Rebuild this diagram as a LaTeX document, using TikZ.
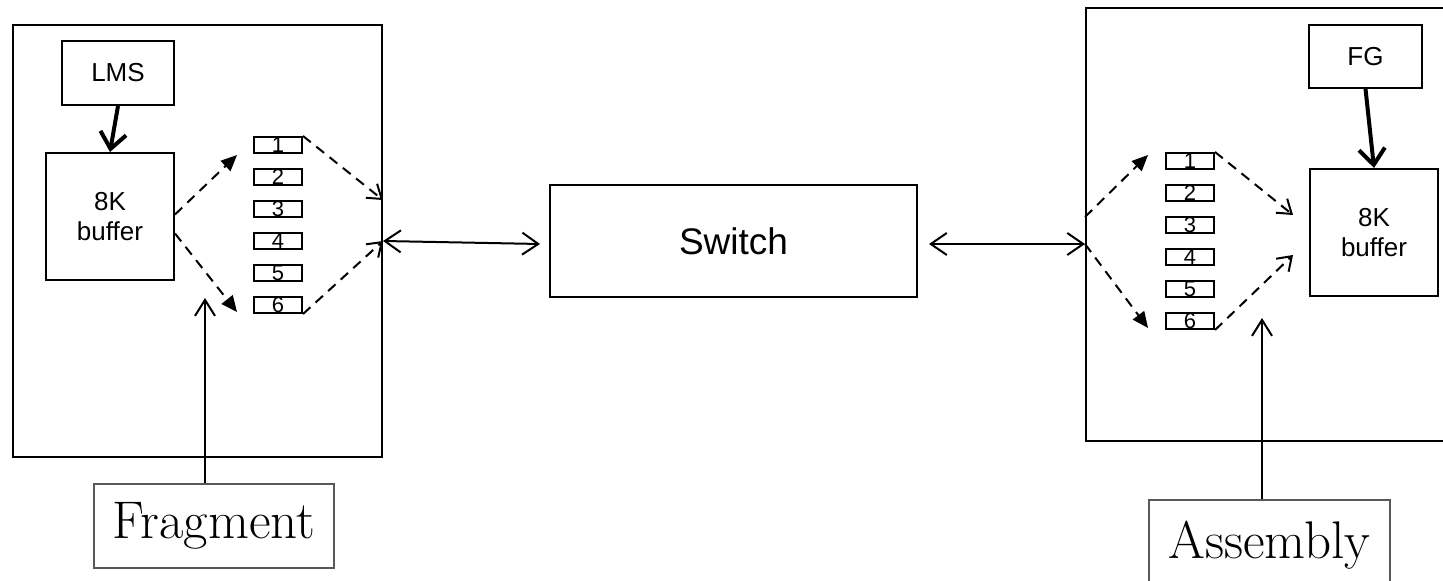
\documentclass[tikz,border=0pt]{standalone}
\usepackage{fontspec}
\newfontfamily\sansf{Liberation Sans}
\usetikzlibrary{arrows.meta,calc}
\begin{document}
\begin{tikzpicture}[x=0.5pt,y=-0.5pt,
  box/.style={draw, line width=1pt, inner sep=0pt, align=center,
    font=\sansf\fontsize{13}{15}\selectfont},
  cell/.style={draw, line width=1pt, minimum width=24pt, minimum height=8pt,
    inner sep=0pt, font=\sansf\fontsize{11}{11}\selectfont},
  labelbox/.style={draw=black!65, line width=0.6pt, inner sep=0pt,
    font=\fontsize{26.5}{28}\selectfont},
  feed/.style={line width=2pt, -{Straight Barb[length=8pt,width=13pt]}},
  dashout/.style={line width=1pt, dash pattern=on 5pt off 3.5pt,
    -{Triangle[length=8pt,width=7pt]}},
  dashin/.style={line width=1pt, dash pattern=on 5pt off 3.5pt,
    -{Straight Barb[length=6.5pt,width=9pt]}},
  link/.style={line width=1pt,
    {Straight Barb[length=8pt,width=11pt]}-{Straight Barb[length=8pt,width=11pt]}},
  rise/.style={line width=1pt, -{Straight Barb[length=8pt,width=10pt]}}
]
\useasboundingbox (0,0) rectangle (1443,581);
\clip (0,0) rectangle (1443,581);

% left container
\node[box, minimum width=184.5pt, minimum height=216pt] (lbox) at (197.5,241) {};
\node[box, minimum width=56pt, minimum height=32pt] (lms) at (118,73) {LMS};
\node[box, minimum width=64pt, minimum height=63.5pt] (lbuf) at (110,216.5) {8K\\buffer};
\foreach \i/\y in {1/145,2/177,3/209,4/241,5/273,6/305}
  \node[cell] (l\i) at (278,\y) {\i};

% switch
\node[box, minimum width=183.5pt, minimum height=56pt,
  font=\sansf\fontsize{18.5}{20}\selectfont] (switch) at (733.5,241) {Switch};

% right container
\node[box, minimum width=207pt, minimum height=216.5pt] (rbox) at (1293,224.5) {};
\node[box, minimum width=56.5pt, minimum height=31.5pt] (fg) at (1365.5,56.5) {FG};
\node[box, minimum width=64pt, minimum height=63.5pt] (rbuf) at (1374,232.5) {8K\\buffer};
\foreach \i/\y in {1/161,2/193,3/225,4/257,5/289,6/321}
  \node[cell] (r\i) at (1190,\y) {\i};

% labels
\node[labelbox, minimum width=120pt, minimum height=42pt] (frag) at (214,526) {Fragment};
\node[labelbox, minimum width=120.5pt, minimum height=45pt] (asm) at (1269.5,545) {Assembly};

% free ends
\coordinate (lt) at (237,155);
\coordinate (lb) at (237,312);
\coordinate (rport) at ($(rbox.west)+(0,19.5)$);
\coordinate (rt) at (1148,155);
\coordinate (rb) at (1148,328);
\coordinate (rin1) at (1293,215);
\coordinate (rin2) at (1293,255);
\coordinate (fragtip) at (205,298);
\coordinate (asmtip) at (1262,318);

% connectors
\draw[feed] (lms.south) -- (lbuf.north);
\draw[feed] (fg.south) -- (rbuf.north);

\draw[dashout] ($(lbuf.east)+(0,-2)$) -- (lt);
\draw[dashout] ($(lbuf.east)+(0,17)$) -- (lb);
\draw[dashin] (l1.north east) -- ($(lbox.east)+(0,-41)$);
\draw[dashin] (l6.south east) -- (lbox.east);

\draw[link] (lbox.east) -- ($(switch.west)+(-9,3)$);
\draw[link] ($(switch.east)+(11,3)$) -- (rport);

\draw[dashout] ($(rport)+(0,-27)$) -- (rt);
\draw[dashout] (rport) -- (rb);
\draw[dashin] (r1.north east) -- (rin1);
\draw[dashin] (r6.south east) -- (rin2);

\draw[rise] ([xshift=-4.5pt]frag.north) -- (fragtip);
\draw[rise] ([xshift=-3.75pt]asm.north) -- (asmtip);
\end{tikzpicture}
\end{document}
